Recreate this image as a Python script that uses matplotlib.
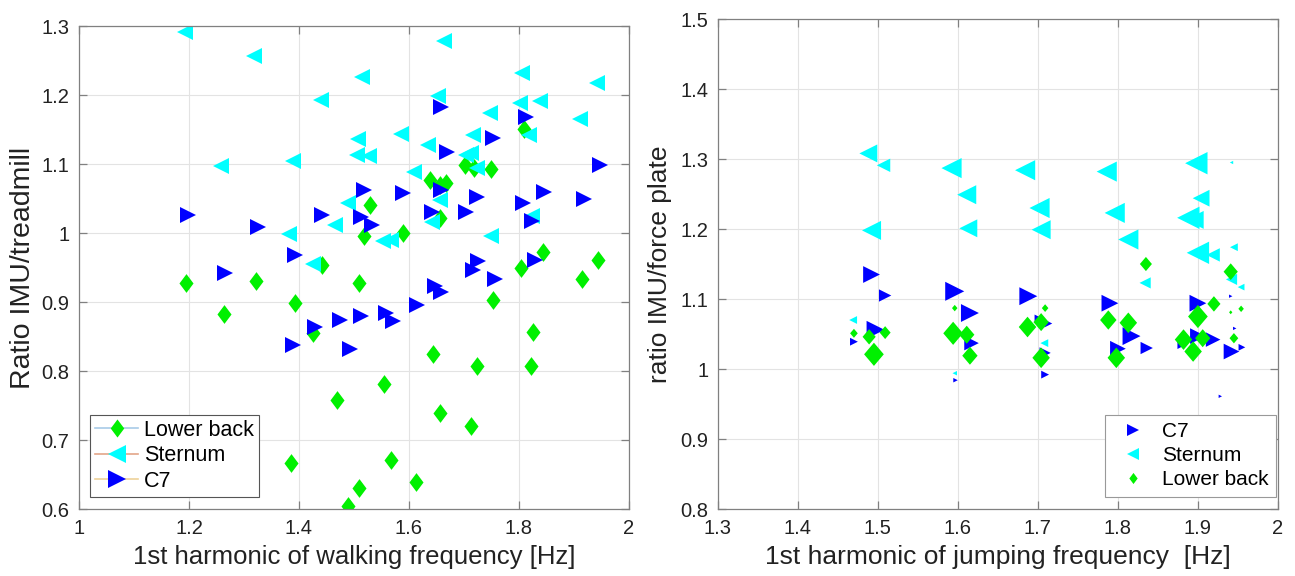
import numpy as np
import matplotlib
matplotlib.use('Agg')
import matplotlib.pyplot as plt
from matplotlib.lines import Line2D

plt.rcParams['font.family'] = ['Liberation Sans', 'DejaVu Sans']

# ---- walking on treadmill (left panel) ----
walk_lower_f = [1.195, 1.322, 1.392, 1.263, 1.426, 1.441, 1.47, 1.385, 1.489, 1.509, 1.554, 1.644,
                1.656, 1.723, 1.713, 1.753, 1.825, 1.821, 1.804, 1.843, 1.915, 1.944, 1.568, 1.51,
                1.612, 1.53, 1.518, 1.589, 1.638, 1.656, 1.668, 1.656, 1.701, 1.719, 1.75, 1.809]
walk_lower_r = [0.928, 0.93, 0.898, 0.882, 0.855, 0.954, 0.758, 0.667, 0.604, 0.928, 0.781, 0.825,
                0.739, 0.807, 0.721, 0.903, 0.856, 0.807, 0.949, 0.973, 0.933, 0.961, 0.671, 0.631,
                0.639, 1.041, 0.995, 1.0, 1.077, 1.07, 1.073, 1.022, 1.099, 1.094, 1.093, 1.151]

walk_sternum_f = [1.192, 1.319, 1.44, 1.259, 1.389, 1.489, 1.466, 1.381, 1.663, 1.515, 1.806, 1.941,
                  1.653, 1.801, 1.839, 1.747, 1.911, 1.818, 1.507, 1.586, 1.716, 1.506, 1.527, 1.635,
                  1.704, 1.713, 1.723, 1.61, 1.656, 1.641, 1.823, 1.75, 1.553, 1.568, 1.426]
walk_sternum_r = [1.291, 1.257, 1.193, 1.097, 1.105, 1.043, 1.011, 0.999, 1.279, 1.226, 1.232, 1.217,
                  1.198, 1.188, 1.191, 1.174, 1.165, 1.142, 1.136, 1.144, 1.142, 1.113, 1.111, 1.127,
                  1.113, 1.116, 1.094, 1.088, 1.048, 1.016, 1.024, 0.995, 0.989, 0.99, 0.955]

walk_c7_f = [1.199, 1.326, 1.442, 1.392, 1.266, 1.474, 1.429, 1.389, 1.492, 1.513, 1.558, 1.571,
             1.615, 1.647, 1.659, 1.716, 1.725, 1.756, 1.829, 1.519, 1.513, 1.532, 1.59, 1.641,
             1.659, 1.669, 1.659, 1.704, 1.723, 1.752, 1.812, 1.807, 1.845, 1.824, 1.918, 1.947]
walk_c7_r = [1.026, 1.009, 1.026, 0.968, 0.942, 0.874, 0.864, 0.838, 0.832, 0.88, 0.884, 0.872,
             0.895, 0.923, 0.915, 0.947, 0.959, 0.933, 0.961, 1.062, 1.023, 1.011, 1.058, 1.03,
             1.183, 1.118, 1.063, 1.03, 1.052, 1.138, 1.168, 1.044, 1.059, 1.018, 1.049, 1.099]

# ---- jumping on force plate (right panel), w = marker weight ----
jump_c7_f = [1.492, 1.509, 1.47, 1.497, 1.596, 1.615, 1.617, 1.597, 1.688, 1.713, 1.7, 1.709, 1.709,
             1.79, 1.817, 1.8, 1.836, 1.9, 1.941, 1.946, 1.9, 1.919, 1.88, 1.942, 1.955, 1.928]
jump_c7_r = [1.135, 1.105, 1.039, 1.056, 1.111, 1.08, 1.037, 0.984, 1.104, 1.065, 1.073, 1.023, 0.992,
             1.094, 1.047, 1.029, 1.03, 1.094, 1.104, 1.058, 1.047, 1.042, 1.035, 1.025, 1.031, 0.961]
jump_c7_w = [15, 11, 7, 16, 17, 16, 13, 4, 16, 7, 6, 10, 7, 15, 16, 14, 11, 15, 3, 3, 14, 13, 8, 14, 6, 3]

jump_sternum_f = [1.488, 1.507, 1.492, 1.469, 1.592, 1.611, 1.613, 1.596, 1.684, 1.702, 1.704, 1.708,
                  1.786, 1.796, 1.813, 1.834, 1.898, 1.904, 1.888, 1.896, 1.9, 1.919, 1.945, 1.942,
                  1.942, 1.954]
jump_sternum_r = [1.308, 1.291, 1.198, 1.07, 1.287, 1.249, 1.201, 0.994, 1.284, 1.23, 1.199, 1.037,
                  1.282, 1.223, 1.185, 1.123, 1.294, 1.244, 1.216, 1.213, 1.166, 1.163, 1.174, 1.295,
                  1.128, 1.117]
jump_sternum_w = [16, 12, 17, 7, 18, 17, 16, 4, 18, 18, 17, 7, 18, 18, 18, 10, 20, 15, 20, 16, 20, 12,
                  7, 3, 10, 6]

jump_lower_f = [1.47, 1.489, 1.509, 1.495, 1.596, 1.594, 1.611, 1.615, 1.709, 1.687, 1.704, 1.704,
                1.835, 1.788, 1.813, 1.798, 1.941, 1.92, 1.9, 1.954, 1.941, 1.882, 1.906, 1.894, 1.945]
jump_lower_r = [1.051, 1.046, 1.052, 1.021, 1.087, 1.051, 1.049, 1.019, 1.087, 1.06, 1.067, 1.016,
                1.15, 1.07, 1.066, 1.016, 1.139, 1.093, 1.075, 1.086, 1.081, 1.042, 1.044, 1.025, 1.044]
jump_lower_w = [7, 12, 10, 18, 5, 18, 14, 14, 6, 16, 14, 16, 11, 15, 16, 16, 13, 12, 18, 5, 3, 16,
                14, 16, 8]

BLUE = '#0000ff'
CYAN = '#00ffff'
GREEN = '#00f000'
diamond = [(0, 1), (0.75, 0), (0, -1), (-0.75, 0), (0, 1)]
diamond_wide = [(0, 1), (0.85, 0), (0, -1), (-0.85, 0), (0, 1)]


def matlab_axes(ax):
    ax.grid(True, color='#e3e3e3', linewidth=0.8)
    ax.set_axisbelow(True)
    for s in ax.spines.values():
        s.set_color('#808080')
        s.set_linewidth(0.9)
    ax.tick_params(direction='in', top=True, right=True, length=6, width=0.9,
                   color='#808080', labelsize=14.5, labelcolor='#222222', pad=7)


fig = plt.figure(figsize=(12.95, 5.76), dpi=100)

# left panel
ax1 = fig.add_axes([0.061, 0.1163, 0.4247, 0.8385])
matlab_axes(ax1)
ax1.plot(walk_lower_f, walk_lower_r, linestyle='none', marker=diamond, ms=13.5,
         color=GREEN, mec=GREEN, mew=0)
ax1.plot(walk_sternum_f, walk_sternum_r, linestyle='none', marker='<', ms=11.5,
         color=CYAN, mec=CYAN, mew=0)
ax1.plot(walk_c7_f, walk_c7_r, linestyle='none', marker='>', ms=11.5,
         color=BLUE, mec=BLUE, mew=0)
ax1.set_xlim(1, 2)
ax1.set_ylim(0.6, 1.3)
ax1.set_xticks([1, 1.2, 1.4, 1.6, 1.8, 2])
ax1.set_xticklabels(['1', '1.2', '1.4', '1.6', '1.8', '2'])
ax1.set_yticks(np.arange(0.6, 1.31, 0.1))
ax1.set_yticklabels(['0.6', '0.7', '0.8', '0.9', '1', '1.1', '1.2', '1.3'])
ax1.set_xlabel('1st harmonic of walking frequency [Hz]', fontsize=18.5, color='#222222', labelpad=5)
ax1.set_ylabel('Ratio IMU/treadmill', fontsize=20.5, color='#222222', labelpad=4)

h1 = [Line2D([], [], color='#a8cbe8', lw=1.2, marker=diamond, ms=13, mfc=GREEN, mec=GREEN, mew=0),
      Line2D([], [], color='#e3a589', lw=1.2, marker='<', ms=13, mfc=CYAN, mec=CYAN, mew=0),
      Line2D([], [], color='#eed29a', lw=1.2, marker='>', ms=13, mfc=BLUE, mec=BLUE, mew=0)]
leg1 = ax1.legend(h1, ['Lower back', 'Sternum', 'C7'], loc='lower left',
                  bbox_to_anchor=(0.02, 0.025), borderaxespad=0, fontsize=15.5,
                  fancybox=False, framealpha=1, edgecolor='#555555', handlelength=2.0,
                  handletextpad=0.25, labelspacing=0.2, borderpad=0.25)
leg1.get_frame().set_linewidth(0.8)

# right panel
ax2 = fig.add_axes([0.5544, 0.1163, 0.4324, 0.8507])
matlab_axes(ax2)
px = 72.0 / 100.0 * 1.12
ax2.scatter(jump_sternum_f, jump_sternum_r, s=(np.array(jump_sternum_w) * px) ** 2,
            marker='<', color=CYAN, linewidths=0)
ax2.scatter(jump_c7_f, jump_c7_r, s=(np.array(jump_c7_w) * px) ** 2,
            marker='>', color=BLUE, linewidths=0)
ax2.scatter(jump_lower_f, jump_lower_r, s=(np.array(jump_lower_w) * px * 1.15) ** 2,
            marker=diamond_wide, color=GREEN, linewidths=0)
ax2.set_xlim(1.3, 2)
ax2.set_ylim(0.8, 1.5)
ax2.set_xticks(np.arange(1.3, 2.01, 0.1))
ax2.set_xticklabels(['1.3', '1.4', '1.5', '1.6', '1.7', '1.8', '1.9', '2'])
ax2.set_yticks(np.arange(0.8, 1.51, 0.1))
ax2.set_yticklabels(['0.8', '0.9', '1', '1.1', '1.2', '1.3', '1.4', '1.5'])
ax2.set_xlabel('1st harmonic of jumping frequency  [Hz]', fontsize=19, color='#222222', labelpad=5)
ax2.set_ylabel('ratio IMU/force plate', fontsize=19, color='#222222', labelpad=6)

h2 = [Line2D([], [], linestyle='none', marker='>', ms=8, mfc=BLUE, mec=BLUE, mew=0),
      Line2D([], [], linestyle='none', marker='<', ms=8, mfc=CYAN, mec=CYAN, mew=0),
      Line2D([], [], linestyle='none', marker=diamond, ms=8, mfc=GREEN, mec=GREEN, mew=0)]
leg2 = ax2.legend(h2, ['C7', 'Sternum', 'Lower back'], loc='lower right',
                  bbox_to_anchor=(0.997, 0.025), borderaxespad=0, fontsize=15,
                  fancybox=False, framealpha=1, edgecolor='#999999', handlelength=2.0,
                  handletextpad=0.4, labelspacing=0.25, borderpad=0.35)
leg2.get_frame().set_linewidth(0.8)

fig.savefig('out.png', dpi=100)
